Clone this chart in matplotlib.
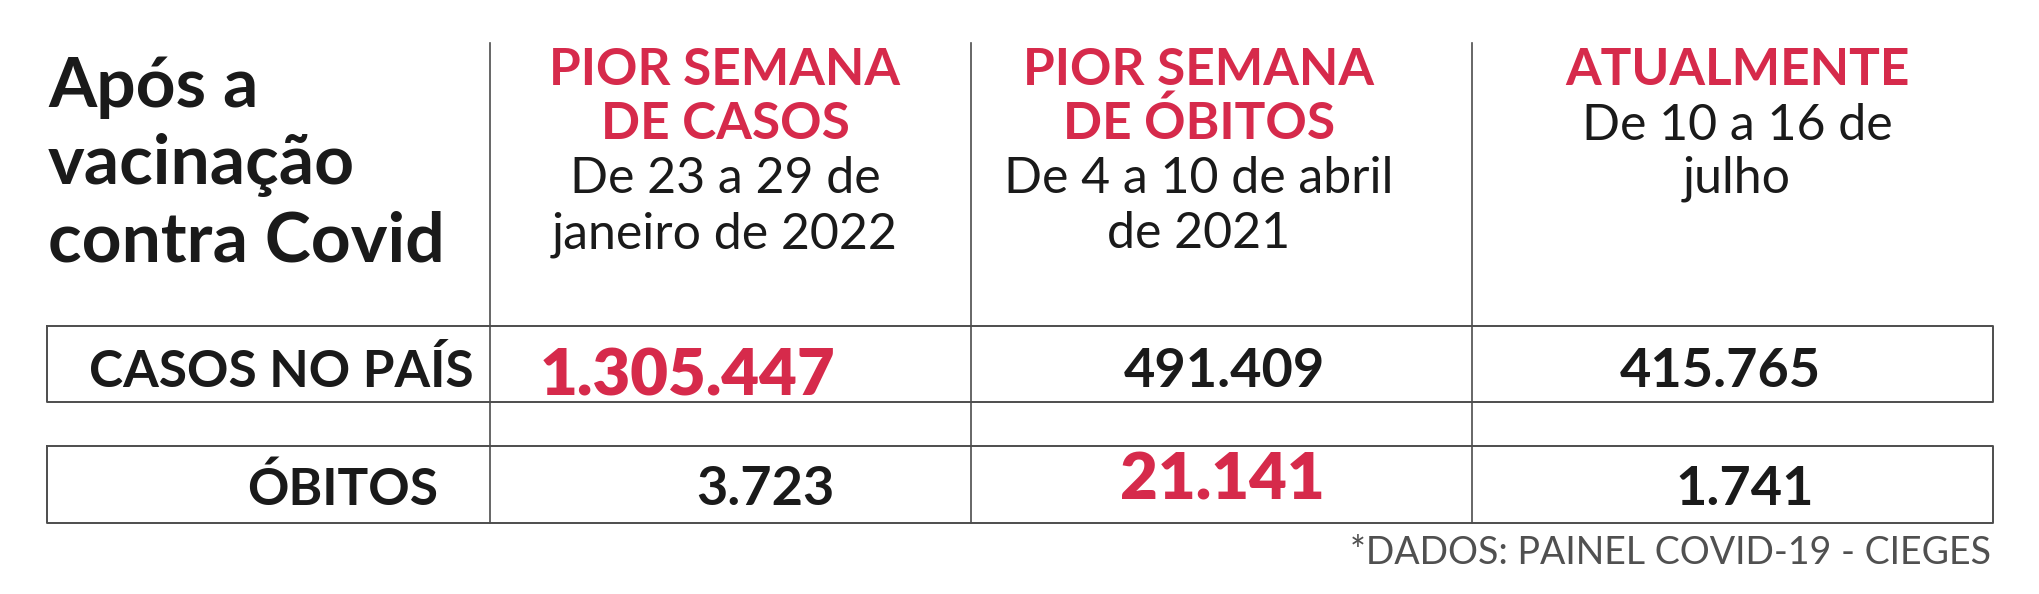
import matplotlib.pyplot as plt

RED = "#d62a4b"
INK = "#1a1a1a"
LINE = "#4d4d4d"

# data
title_lines = ["Após a", "vacinação", "contra Covid"]
col_heads = [["PIOR SEMANA", "DE CASOS"], ["PIOR SEMANA", "DE ÓBITOS"], ["ATUALMENTE"]]
col_dates = [["De 23 a 29 de", "janeiro de 2022"], ["De 4 a 10 de abril", "de 2021"], ["De 10 a 16 de", "julho"]]
row_labels = ["CASOS NO PAÍS", "ÓBITOS"]
casos = [1305447, 491409, 415765]
obitos = [3723, 21141, 1741]
source = "*DADOS: PAINEL COVID-19 - CIEGES"


def fmt(n):
    return f"{n:,}".replace(",", ".")


plt.rcParams["font.family"] = ["Lato", "DejaVu Sans"]

fig = plt.figure(figsize=(20.4, 5.94), dpi=100)
ax = fig.add_axes([0, 0, 1, 1])
ax.set_xlim(0, 2040)
ax.set_ylim(594, 0)
ax.axis("off")

# grid lines (pixel layout)
for x in [490, 971, 1472]:
    ax.plot([x, x], [43, 523], color=LINE, lw=1.2)
for top, bot in [(326, 402), (446, 523)]:
    ax.plot([47, 1993, 1993, 47, 47], [top, top, bot, bot, top], color=LINE, lw=1.4)

# title
for i, t in enumerate(title_lines):
    ax.text(48, 107 + i * 77, t, fontsize=50, fontweight="bold", color=INK,
            ha="left", va="baseline")

# column headers
col_x = [725, 1199, 1737]
date_y = [[193, 248], [193, 248], [140, 192]]
for c in range(3):
    for j, h in enumerate(col_heads[c]):
        ax.text(col_x[c], 85 + j * 54, h, fontsize=37, fontweight="bold", color=RED,
                ha="center", va="baseline")
    for j, d in enumerate(col_dates[c]):
        ax.text(col_x[c], date_y[c][j], d, fontsize=36, color=INK,
                ha="center", va="baseline")

# row labels
ax.text(474, 387, row_labels[0], fontsize=37, fontweight="bold", color=INK,
        ha="right", va="baseline")
ax.text(438, 505, row_labels[1], fontsize=37, fontweight="bold", color=INK,
        ha="right", va="baseline")

# values, the biggest of each row in red
rows = [(casos, [688, 1224, 1720], 387, 395), (obitos, [765, 1222, 1745], 505, 499)]
for vals, xs, base, red_base in rows:
    top = max(vals)
    for v, x in zip(vals, xs):
        if v == top:
            ax.text(x, red_base, fmt(v), fontsize=47, fontweight="heavy", color=RED,
                    ha="center", va="baseline")
        else:
            ax.text(x, base, fmt(v), fontsize=39, fontweight="bold", color=INK,
                    ha="center", va="baseline")

ax.text(1991, 564, source, fontsize=27, fontweight="normal", color="#505050",
        ha="right", va="baseline")

fig.savefig("out.png", dpi=100, facecolor="white")
